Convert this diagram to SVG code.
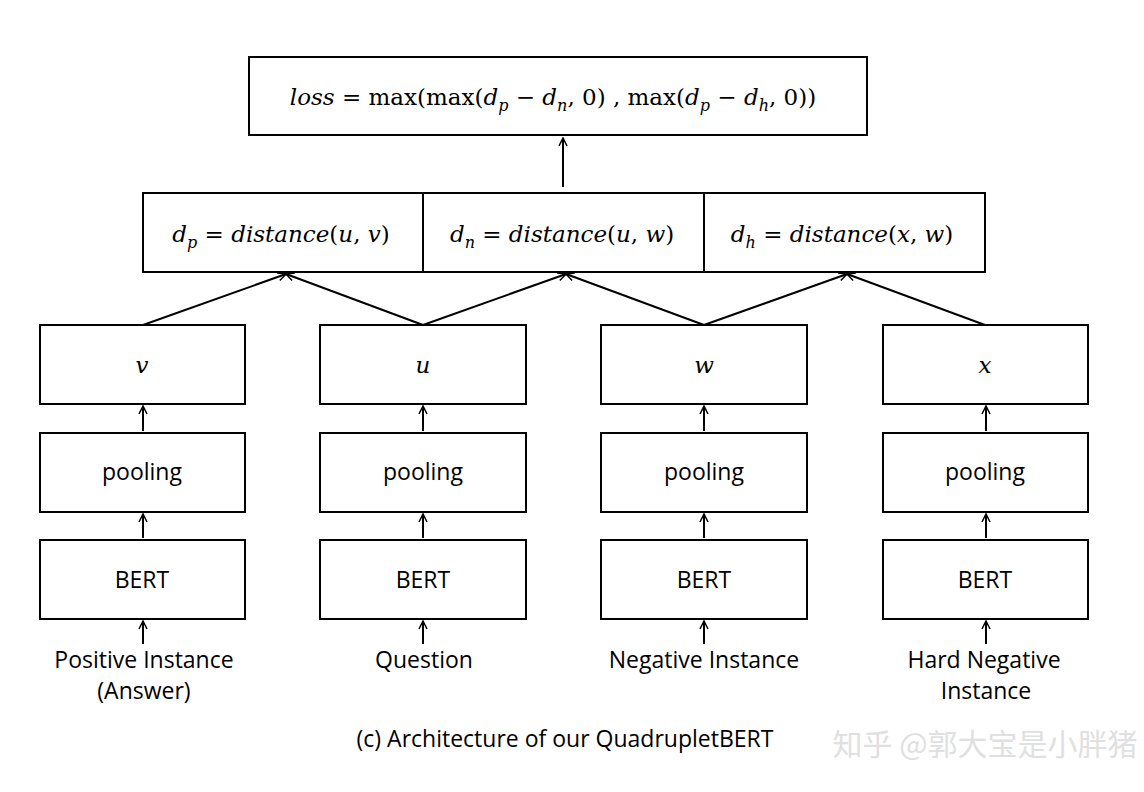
<svg xmlns="http://www.w3.org/2000/svg" width="1144" height="792" viewBox="0 0 1144 792">
<style>
.b{fill:#fff;stroke:#000;stroke-width:2}
.t{font-family:"Open Sans","Liberation Sans",sans-serif;font-size:23px;text-anchor:middle;fill:#000}
.m{font-family:"DejaVu Serif","Liberation Serif",serif;font-size:23px;font-style:italic;text-anchor:middle;fill:#000}
.r{font-style:normal}
.c{stroke:#000;stroke-width:2;fill:none;marker-end:url(#a)}
</style>
<defs><marker id="a" markerWidth="10" markerHeight="10" refX="9" refY="5" orient="auto" markerUnits="userSpaceOnUse"><path d="M1,1 L9,5 L1,9" fill="none" stroke="#000" stroke-width="1.5"/></marker></defs>
<rect width="1144" height="792" fill="#fff"/>
<g id="loss"><rect class="b" x="249" y="57" width="618" height="78"/><text class="m" x="553" y="105">loss <tspan class="r">= max(max(</tspan>d<tspan font-size="16" dy="6">p</tspan><tspan dy="-6" class="r"> − </tspan>d<tspan font-size="16" dy="6">n</tspan><tspan dy="-6" class="r">, 0) , max(</tspan>d<tspan font-size="16" dy="6">p</tspan><tspan dy="-6" class="r"> − </tspan>d<tspan font-size="16" dy="6">h</tspan><tspan dy="-6" class="r">, 0))</tspan></text></g>
<g id="dp"><rect class="b" x="143" y="193" width="280" height="79"/><text class="m" x="281" y="242">d<tspan font-size="16" dy="6">p</tspan><tspan dy="-6" class="r"> = </tspan>distance<tspan class="r">(</tspan>u<tspan class="r">, </tspan>v<tspan class="r">)</tspan></text></g>
<g id="dn"><rect class="b" x="423" y="193" width="281" height="79"/><text class="m" x="562" y="242">d<tspan font-size="16" dy="6">n</tspan><tspan dy="-6" class="r"> = </tspan>distance<tspan class="r">(</tspan>u<tspan class="r">, </tspan>w<tspan class="r">)</tspan></text></g>
<g id="dh"><rect class="b" x="704" y="193" width="281" height="79"/><text class="m" x="842" y="242">d<tspan font-size="16" dy="6">h</tspan><tspan dy="-6" class="r"> = </tspan>distance<tspan class="r">(</tspan>x<tspan class="r">, </tspan>w<tspan class="r">)</tspan></text></g>
<g id="v"><rect class="b" x="40" y="325" width="205" height="79"/><text class="m" x="142" y="373">v</text></g>
<g id="u"><rect class="b" x="320" y="325" width="206" height="79"/><text class="m" x="423" y="373">u</text></g>
<g id="w"><rect class="b" x="601" y="325" width="206" height="79"/><text class="m" x="704" y="373">w</text></g>
<g id="x"><rect class="b" x="883" y="325" width="205" height="79"/><text class="m" x="985" y="373">x</text></g>
<g id="p1"><rect class="b" x="40" y="433" width="205" height="79"/><text class="t" x="142" y="480">pooling</text></g>
<g id="p2"><rect class="b" x="320" y="433" width="206" height="79"/><text class="t" x="423" y="480">pooling</text></g>
<g id="p3"><rect class="b" x="601" y="433" width="206" height="79"/><text class="t" x="704" y="480">pooling</text></g>
<g id="p4"><rect class="b" x="883" y="433" width="205" height="79"/><text class="t" x="985" y="480">pooling</text></g>
<g id="b1"><rect class="b" x="40" y="540" width="205" height="79"/><text class="t" x="142" y="588">BERT</text></g>
<g id="b2"><rect class="b" x="320" y="540" width="206" height="79"/><text class="t" x="423" y="588">BERT</text></g>
<g id="b3"><rect class="b" x="601" y="540" width="206" height="79"/><text class="t" x="704" y="588">BERT</text></g>
<g id="b4"><rect class="b" x="883" y="540" width="205" height="79"/><text class="t" x="985" y="588">BERT</text></g>
<g id="labels">
<text class="t" x="144" y="668">Positive Instance</text><text class="t" x="144" y="699">(Answer)</text>
<text class="t" x="424" y="668">Question</text>
<text class="t" x="704" y="668">Negative Instance</text>
<text class="t" x="984" y="668">Hard Negative</text><text class="t" x="986" y="699">Instance</text>
<text class="t" x="565" y="747">(c) Architecture of our QuadrupletBERT</text>
<text x="985" y="755" font-family="'Noto Sans CJK SC',sans-serif" font-size="30" text-anchor="middle" fill="#e0e0e0">知乎 @郭大宝是小胖猪</text>
</g>
<g id="connectors">
<line class="c" x1="563" y1="187" x2="563" y2="138"/>
<line class="c" x1="143" y1="325" x2="286" y2="274"/>
<line class="c" x1="423" y1="325" x2="286" y2="274"/>
<line class="c" x1="423" y1="325" x2="566" y2="274"/>
<line class="c" x1="704" y1="325" x2="566" y2="274"/>
<line class="c" x1="704" y1="325" x2="847" y2="274"/>
<line class="c" x1="985" y1="325" x2="847" y2="274"/>
<line class="c" x1="143" y1="431" x2="143" y2="406"/><line class="c" x1="423" y1="431" x2="423" y2="406"/><line class="c" x1="704" y1="431" x2="704" y2="406"/><line class="c" x1="986" y1="431" x2="986" y2="406"/>
<line class="c" x1="143" y1="538" x2="143" y2="514"/><line class="c" x1="423" y1="538" x2="423" y2="514"/><line class="c" x1="704" y1="538" x2="704" y2="514"/><line class="c" x1="986" y1="538" x2="986" y2="514"/>
<line class="c" x1="143" y1="644" x2="143" y2="621"/><line class="c" x1="423" y1="644" x2="423" y2="621"/><line class="c" x1="704" y1="644" x2="704" y2="621"/><line class="c" x1="986" y1="644" x2="986" y2="621"/>
</g>
</svg>
